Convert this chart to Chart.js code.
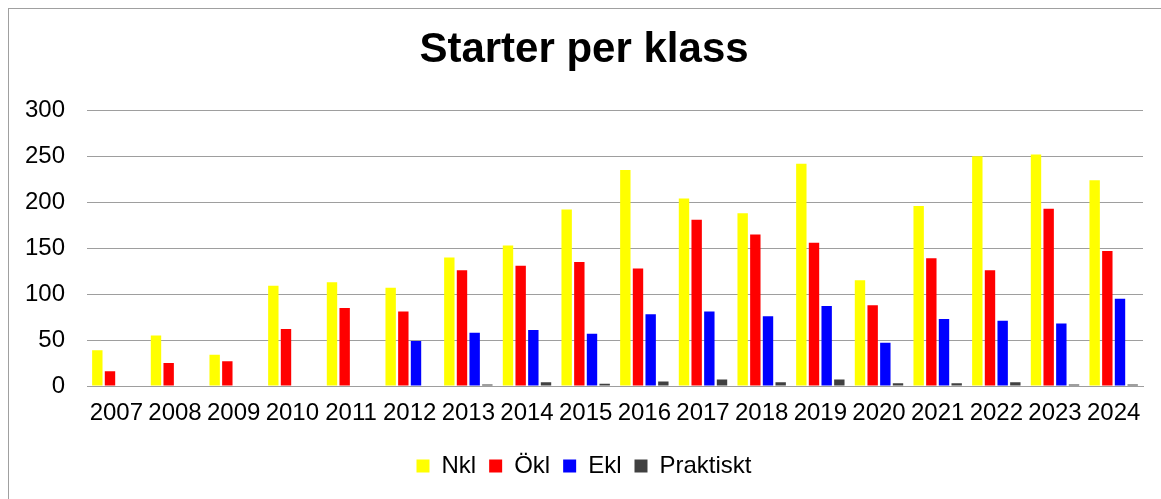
<!DOCTYPE html>
<html>
<head>
<meta charset="utf-8">
<script src="https://cdn.jsdelivr.net/npm/chart.js@4/dist/chart.umd.min.js"></script>
<style>
  body { margin: 0; background: #fff; }
  #ram { position: absolute; left: 8px; top: 8px; width: 1200px; height: 600px; border: 1px solid #a0a0a0; }
  #grafico { position: absolute; left: 0; top: 0; }
</style>
</head>
<body>
<div id="ram"></div>
<canvas id="grafico" width="1161" height="499"></canvas>
<script>
var ar = ['2007','2008','2009','2010','2011','2012','2013','2014','2015','2016','2017','2018','2019','2020','2021','2022','2023','2024'];
var nkl = [39, 55, 34, 109, 113, 107, 140, 153, 192, 235, 204, 188, 242, 115, 196, 250, 252, 224];
var okl = [16, 25, 27, 62, 85, 81, 126, 131, 135, 128, 181, 165, 156, 88, 139, 126, 193, 147];
var ekl = [null, null, null, null, null, 49, 58, 61, 57, 78, 81, 76, 87, 47, 73, 71, 68, 95];
var praktiskt = [null, null, null, null, null, null, 1.5, 4, 2.5, 5, 7, 4, 7, 3, 3, 4, 1.5, 1.5];
var yTicks = [0, 50, 100, 150, 200, 250, 300];

function loadChartStarter() {
    Chart.defaults.font.family = "'Liberation Sans', Arial, sans-serif";
    Chart.defaults.color = '#000';

    var ctx = document.getElementById('grafico').getContext('2d');
    window.starter = new Chart(ctx, {
        type: 'bar',
        data: {
            labels: ar,
            datasets: [
                { label: 'Nkl', data: nkl, backgroundColor: '#ffff00' },
                { label: 'Ökl', data: okl, backgroundColor: '#ff0000' },
                { label: 'Ekl', data: ekl, backgroundColor: '#0000ff' },
                { label: 'Praktiskt', data: praktiskt, backgroundColor: '#404040' }
            ]
        },
        options: {
            responsive: false,
            animation: false,
            categoryPercentage: 0.864,
            barPercentage: 0.82,
            layout: { padding: { left: 25, right: 18, top: 0, bottom: 11 } },
            plugins: {
                title: {
                    display: true,
                    text: 'Starter per klass',
                    font: { size: 42, weight: 'bold' },
                    padding: { top: 25, bottom: 35 }
                },
                legend: {
                    position: 'bottom',
                    labels: { boxWidth: 13, boxHeight: 13, padding: 13, font: { size: 24 } }
                },
                tooltip: { enabled: false }
            },
            scales: {
                x: {
                    grid: { display: false, drawTicks: false },
                    border: { display: true, color: '#9e9e9e' },
                    ticks: { font: { size: 24 }, padding: 13, maxRotation: 0, autoSkip: false },
                    afterFit: function (scale) { scale.height = 55; }
                },
                y: {
                    min: 0,
                    max: 300,
                    afterBuildTicks: function (scale) {
                        scale.ticks = yTicks.map(function (v) { return { value: v }; });
                    },
                    grid: { color: '#9e9e9e', drawTicks: false },
                    border: { display: false },
                    ticks: { font: { size: 24 }, padding: 22 },
                    afterFit: function (scale) { scale.width = 62; }
                }
            }
        }
    });
}

loadChartStarter();
</script>
</body>
</html>
